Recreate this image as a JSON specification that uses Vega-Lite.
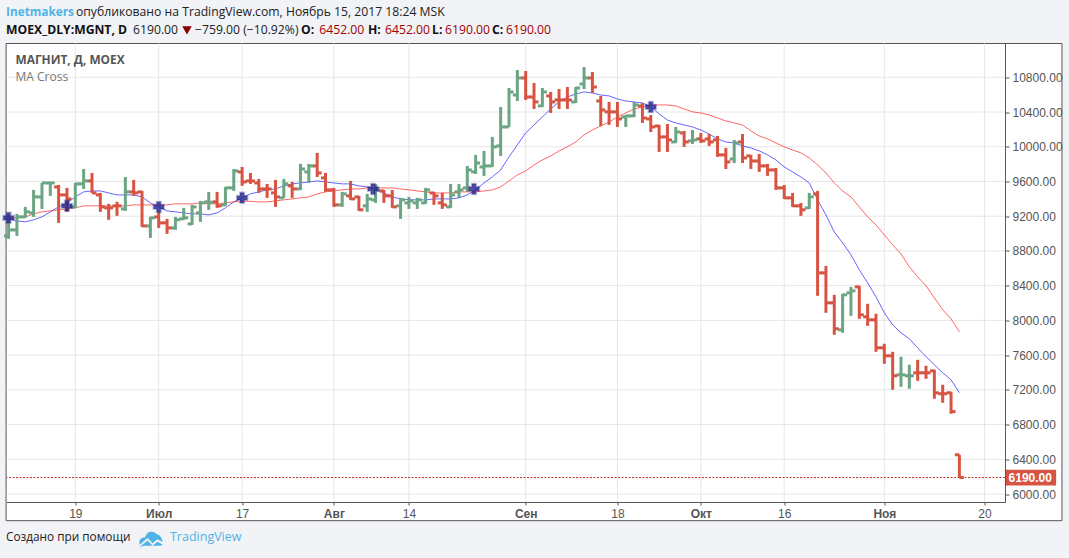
{
  "$schema": "https://vega.github.io/schema/vega-lite/v6.json",
  "width": 998.5,
  "height": 458.5,
  "autosize": "none",
  "padding": {"left": 6.5, "top": 43.5, "right": 64, "bottom": 56},
  "background": "#f1f3f6",
  "view": {"stroke": null},
  "config": {"axis": {"labelOverlap": false, "labelFlush": false, "labelBound": false}},
  "data": {"name": "one"},
  "datasets": {
    "one": [{"n": 1}],
    "ygrid": [{"p": 6000},{"p": 6400},{"p": 6800},{"p": 7200},{"p": 7600},{"p": 8000},{"p": 8400},{"p": 8800},{"p": 9200},{"p": 9600},{"p": 10000},{"p": 10400},{"p": 10800}],
    "xgrid": [{"i": 8},{"i": 18},{"i": 28},{"i": 39},{"i": 48},{"i": 62},{"i": 73},{"i": 83},{"i": 93},{"i": 105},{"i": 117}],
    "crosses": [{"i": 0,"p": 9181},{"i": 7,"p": 9319},{"i": 18,"p": 9307},{"i": 28,"p": 9411},{"i": 43.7,"p": 9514},{"i": 55.8,"p": 9514},{"i": 77,"p": 10458}],
    "bars": [
      {"i":0,"dir":"up","o":8973,"h":9215,"l":8939,"c":9042,"ma1":9169,"ma2":9181},
      {"i":1,"dir":"up","o":9042,"h":9227,"l":8973,"c":9192,"ma1":9146,"ma2":9181},
      {"i":2,"dir":"up","o":9192,"h":9307,"l":9181,"c":9250,"ma1":9134,"ma2":9192},
      {"i":3,"dir":"up","o":9238,"h":9503,"l":9192,"c":9422,"ma1":9158,"ma2":9227},
      {"i":4,"dir":"up","o":9422,"h":9583,"l":9284,"c":9583,"ma1":9192,"ma2":9250},
      {"i":5,"dir":"up","o":9583,"h":9595,"l":9434,"c":9583,"ma1":9250,"ma2":9261},
      {"i":6,"dir":"down","o":9537,"h":9560,"l":9123,"c":9445,"ma1":9307,"ma2":9273},
      {"i":7,"dir":"down","o":9445,"h":9526,"l":9250,"c":9399,"ma1":9353,"ma2":9284},
      {"i":8,"dir":"up","o":9307,"h":9583,"l":9296,"c":9572,"ma1":9422,"ma2":9296},
      {"i":9,"dir":"up","o":9572,"h":9744,"l":9514,"c":9606,"ma1":9480,"ma2":9319},
      {"i":10,"dir":"down","o":9606,"h":9698,"l":9468,"c":9468,"ma1":9491,"ma2":9319},
      {"i":11,"dir":"down","o":9445,"h":9468,"l":9250,"c":9307,"ma1":9491,"ma2":9319},
      {"i":12,"dir":"down","o":9296,"h":9342,"l":9158,"c":9296,"ma1":9468,"ma2":9319},
      {"i":13,"dir":"down","o":9319,"h":9365,"l":9204,"c":9319,"ma1":9445,"ma2":9319},
      {"i":14,"dir":"up","o":9284,"h":9652,"l":9261,"c":9480,"ma1":9445,"ma2":9319},
      {"i":15,"dir":"down","o":9480,"h":9618,"l":9434,"c":9468,"ma1":9445,"ma2":9330},
      {"i":16,"dir":"down","o":9480,"h":9491,"l":9077,"c":9088,"ma1":9422,"ma2":9330},
      {"i":17,"dir":"up","o":9088,"h":9192,"l":8950,"c":9181,"ma1":9353,"ma2":9330},
      {"i":18,"dir":"down","o":9192,"h":9250,"l":9065,"c":9123,"ma1":9307,"ma2":9330},
      {"i":19,"dir":"down","o":9123,"h":9169,"l":8996,"c":9065,"ma1":9261,"ma2":9330},
      {"i":20,"dir":"up","o":9065,"h":9192,"l":9042,"c":9158,"ma1":9250,"ma2":9342},
      {"i":21,"dir":"up","o":9169,"h":9296,"l":9158,"c":9181,"ma1":9238,"ma2":9342},
      {"i":22,"dir":"up","o":9111,"h":9330,"l":9100,"c":9307,"ma1":9227,"ma2":9342},
      {"i":23,"dir":"up","o":9238,"h":9376,"l":9134,"c":9353,"ma1":9227,"ma2":9353},
      {"i":24,"dir":"up","o":9365,"h":9480,"l":9273,"c":9360,"ma1":9215,"ma2":9342},
      {"i":25,"dir":"down","o":9365,"h":9480,"l":9296,"c":9319,"ma1":9238,"ma2":9342},
      {"i":26,"dir":"up","o":9330,"h":9537,"l":9319,"c":9526,"ma1":9296,"ma2":9353},
      {"i":27,"dir":"up","o":9526,"h":9744,"l":9491,"c":9721,"ma1":9365,"ma2":9365},
      {"i":28,"dir":"down","o":9710,"h":9767,"l":9549,"c":9595,"ma1":9411,"ma2":9376},
      {"i":29,"dir":"down","o":9606,"h":9698,"l":9572,"c":9606,"ma1":9457,"ma2":9370},
      {"i":30,"dir":"down","o":9583,"h":9629,"l":9468,"c":9514,"ma1":9480,"ma2":9365},
      {"i":31,"dir":"down","o":9514,"h":9572,"l":9411,"c":9514,"ma1":9503,"ma2":9365},
      {"i":32,"dir":"down","o":9468,"h":9618,"l":9307,"c":9422,"ma1":9514,"ma2":9376},
      {"i":33,"dir":"up","o":9411,"h":9629,"l":9411,"c":9572,"ma1":9549,"ma2":9388},
      {"i":34,"dir":"down","o":9549,"h":9595,"l":9411,"c":9514,"ma1":9572,"ma2":9399},
      {"i":35,"dir":"up","o":9514,"h":9802,"l":9503,"c":9744,"ma1":9583,"ma2":9411},
      {"i":36,"dir":"up","o":9710,"h":9802,"l":9583,"c":9779,"ma1":9595,"ma2":9422},
      {"i":37,"dir":"down","o":9779,"h":9929,"l":9652,"c":9698,"ma1":9606,"ma2":9457},
      {"i":38,"dir":"down","o":9641,"h":9698,"l":9480,"c":9503,"ma1":9595,"ma2":9480},
      {"i":39,"dir":"down","o":9503,"h":9526,"l":9307,"c":9330,"ma1":9583,"ma2":9491},
      {"i":40,"dir":"up","o":9330,"h":9480,"l":9307,"c":9457,"ma1":9572,"ma2":9503},
      {"i":41,"dir":"down","o":9434,"h":9606,"l":9388,"c":9399,"ma1":9572,"ma2":9514},
      {"i":42,"dir":"down","o":9422,"h":9434,"l":9261,"c":9273,"ma1":9549,"ma2":9514},
      {"i":43,"dir":"up","o":9319,"h":9457,"l":9250,"c":9399,"ma1":9537,"ma2":9526},
      {"i":44,"dir":"up","o":9388,"h":9572,"l":9353,"c":9503,"ma1":9503,"ma2":9526},
      {"i":45,"dir":"down","o":9491,"h":9503,"l":9353,"c":9434,"ma1":9468,"ma2":9526},
      {"i":46,"dir":"down","o":9434,"h":9503,"l":9296,"c":9307,"ma1":9422,"ma2":9526},
      {"i":47,"dir":"up","o":9319,"h":9411,"l":9169,"c":9388,"ma1":9399,"ma2":9514},
      {"i":48,"dir":"up","o":9353,"h":9422,"l":9284,"c":9376,"ma1":9388,"ma2":9503},
      {"i":49,"dir":"up","o":9353,"h":9411,"l":9284,"c":9388,"ma1":9388,"ma2":9491},
      {"i":50,"dir":"up","o":9353,"h":9526,"l":9342,"c":9503,"ma1":9388,"ma2":9480},
      {"i":51,"dir":"down","o":9468,"h":9480,"l":9330,"c":9434,"ma1":9399,"ma2":9468},
      {"i":52,"dir":"down","o":9353,"h":9468,"l":9284,"c":9330,"ma1":9399,"ma2":9468},
      {"i":53,"dir":"up","o":9307,"h":9572,"l":9296,"c":9445,"ma1":9399,"ma2":9468},
      {"i":54,"dir":"up","o":9480,"h":9572,"l":9411,"c":9503,"ma1":9411,"ma2":9480},
      {"i":55,"dir":"up","o":9526,"h":9779,"l":9480,"c":9733,"ma1":9445,"ma2":9480},
      {"i":56,"dir":"up","o":9710,"h":9906,"l":9687,"c":9813,"ma1":9503,"ma2":9480},
      {"i":57,"dir":"up","o":9767,"h":9952,"l":9664,"c":9779,"ma1":9583,"ma2":9491},
      {"i":58,"dir":"up","o":9779,"h":10113,"l":9767,"c":9998,"ma1":9652,"ma2":9503},
      {"i":59,"dir":"up","o":10009,"h":10458,"l":9894,"c":10228,"ma1":9733,"ma2":9537},
      {"i":60,"dir":"up","o":10228,"h":10677,"l":10228,"c":10631,"ma1":9883,"ma2":9606},
      {"i":61,"dir":"up","o":10596,"h":10884,"l":10527,"c":10792,"ma1":10021,"ma2":9675},
      {"i":62,"dir":"down","o":10792,"h":10872,"l":10539,"c":10573,"ma1":10159,"ma2":9721},
      {"i":63,"dir":"down","o":10573,"h":10734,"l":10435,"c":10516,"ma1":10251,"ma2":9790},
      {"i":64,"dir":"up","o":10470,"h":10677,"l":10458,"c":10631,"ma1":10343,"ma2":9848},
      {"i":65,"dir":"down","o":10585,"h":10631,"l":10389,"c":10516,"ma1":10435,"ma2":9894},
      {"i":66,"dir":"down","o":10539,"h":10665,"l":10435,"c":10539,"ma1":10516,"ma2":9952},
      {"i":67,"dir":"down","o":10539,"h":10688,"l":10435,"c":10539,"ma1":10573,"ma2":9998},
      {"i":68,"dir":"up","o":10516,"h":10688,"l":10504,"c":10677,"ma1":10608,"ma2":10055},
      {"i":69,"dir":"up","o":10723,"h":10918,"l":10665,"c":10792,"ma1":10631,"ma2":10136},
      {"i":70,"dir":"down","o":10792,"h":10861,"l":10619,"c":10688,"ma1":10619,"ma2":10193},
      {"i":71,"dir":"down","o":10527,"h":10585,"l":10239,"c":10424,"ma1":10596,"ma2":10239},
      {"i":72,"dir":"down","o":10401,"h":10516,"l":10251,"c":10401,"ma1":10585,"ma2":10285},
      {"i":73,"dir":"down","o":10401,"h":10516,"l":10228,"c":10320,"ma1":10550,"ma2":10343},
      {"i":74,"dir":"up","o":10343,"h":10366,"l":10228,"c":10355,"ma1":10527,"ma2":10389},
      {"i":75,"dir":"up","o":10355,"h":10516,"l":10343,"c":10481,"ma1":10516,"ma2":10435},
      {"i":76,"dir":"down","o":10470,"h":10504,"l":10274,"c":10331,"ma1":10504,"ma2":10458},
      {"i":77,"dir":"down","o":10320,"h":10366,"l":10170,"c":10228,"ma1":10458,"ma2":10481},
      {"i":78,"dir":"down","o":10239,"h":10251,"l":9940,"c":10113,"ma1":10378,"ma2":10481},
      {"i":79,"dir":"down","o":10113,"h":10262,"l":9940,"c":10078,"ma1":10308,"ma2":10481},
      {"i":80,"dir":"up","o":10055,"h":10228,"l":10044,"c":10170,"ma1":10274,"ma2":10470},
      {"i":81,"dir":"down","o":10159,"h":10182,"l":9998,"c":10055,"ma1":10251,"ma2":10435},
      {"i":82,"dir":"up","o":10067,"h":10193,"l":10032,"c":10078,"ma1":10228,"ma2":10401},
      {"i":83,"dir":"down","o":10090,"h":10159,"l":10044,"c":10067,"ma1":10193,"ma2":10389},
      {"i":84,"dir":"down","o":10090,"h":10147,"l":10009,"c":10055,"ma1":10147,"ma2":10366},
      {"i":85,"dir":"down","o":10078,"h":10124,"l":9883,"c":9906,"ma1":10090,"ma2":10331},
      {"i":86,"dir":"down","o":9906,"h":9986,"l":9744,"c":9825,"ma1":10055,"ma2":10297},
      {"i":87,"dir":"up","o":9859,"h":10078,"l":9813,"c":10044,"ma1":10044,"ma2":10274},
      {"i":88,"dir":"down","o":10055,"h":10147,"l":9813,"c":9871,"ma1":10009,"ma2":10251},
      {"i":89,"dir":"down","o":9894,"h":9906,"l":9744,"c":9836,"ma1":9986,"ma2":10182},
      {"i":90,"dir":"down","o":9836,"h":9917,"l":9710,"c":9779,"ma1":9952,"ma2":10124},
      {"i":91,"dir":"down","o":9779,"h":9802,"l":9664,"c":9733,"ma1":9906,"ma2":10090},
      {"i":92,"dir":"down","o":9733,"h":9756,"l":9503,"c":9526,"ma1":9848,"ma2":10044},
      {"i":93,"dir":"down","o":9526,"h":9560,"l":9399,"c":9411,"ma1":9767,"ma2":9998},
      {"i":94,"dir":"down","o":9411,"h":9468,"l":9307,"c":9319,"ma1":9710,"ma2":9963},
      {"i":95,"dir":"down","o":9319,"h":9353,"l":9204,"c":9273,"ma1":9652,"ma2":9929},
      {"i":96,"dir":"up","o":9296,"h":9468,"l":9284,"c":9422,"ma1":9583,"ma2":9871},
      {"i":97,"dir":"down","o":9457,"h":9491,"l":8283,"c":8547,"ma1":9388,"ma2":9790},
      {"i":98,"dir":"down","o":8547,"h":8628,"l":8087,"c":8202,"ma1":9215,"ma2":9698},
      {"i":99,"dir":"down","o":8202,"h":8294,"l":7834,"c":7903,"ma1":9019,"ma2":9583},
      {"i":100,"dir":"up","o":7891,"h":8306,"l":7857,"c":8294,"ma1":8893,"ma2":9491},
      {"i":101,"dir":"up","o":8317,"h":8386,"l":8052,"c":8340,"ma1":8755,"ma2":9422},
      {"i":102,"dir":"down","o":8386,"h":8398,"l":8018,"c":8064,"ma1":8582,"ma2":9307},
      {"i":103,"dir":"down","o":8041,"h":8191,"l":7937,"c":8006,"ma1":8432,"ma2":9192},
      {"i":104,"dir":"down","o":8006,"h":8076,"l":7638,"c":7684,"ma1":8271,"ma2":9100},
      {"i":105,"dir":"down","o":7684,"h":7730,"l":7500,"c":7592,"ma1":8087,"ma2":8985},
      {"i":106,"dir":"down","o":7592,"h":7638,"l":7201,"c":7362,"ma1":7949,"ma2":8870},
      {"i":107,"dir":"up","o":7373,"h":7581,"l":7235,"c":7373,"ma1":7857,"ma2":8766},
      {"i":108,"dir":"up","o":7362,"h":7489,"l":7212,"c":7362,"ma1":7788,"ma2":8617},
      {"i":109,"dir":"down","o":7396,"h":7546,"l":7304,"c":7396,"ma1":7684,"ma2":8501},
      {"i":110,"dir":"down","o":7396,"h":7477,"l":7327,"c":7396,"ma1":7581,"ma2":8398},
      {"i":111,"dir":"down","o":7419,"h":7431,"l":7097,"c":7166,"ma1":7489,"ma2":8260},
      {"i":112,"dir":"down","o":7155,"h":7258,"l":7051,"c":7155,"ma1":7396,"ma2":8122},
      {"i":113,"dir":"down","o":7166,"h":7178,"l":6925,"c":6949,"ma1":7316,"ma2":8018},
      {"i":114,"dir":"down","o":6452,"h":6452,"l":6190,"c":6190,"ma1":7166,"ma2":7868}
    ]
  },
  "layer": [
    {
      "mark": {"type": "rect", "fill": "#ffffff", "stroke": "#555555", "strokeWidth": 1},
      "encoding": {
        "x": {"datum": -0.3, "type": "quantitative", "scale": {"domain": [-0.25, 119.47], "nice": false, "zero": false}},
        "x2": {"datum": 126.3},
        "y": {"datum": 11189, "type": "quantitative", "scale": {"domain": [5908, 11189], "nice": false, "zero": false}},
        "y2": {"datum": 5693}
      }
    },
    {
      "data": {"name": "ygrid"},
      "mark": {"type": "rule", "color": "#e6e6e6", "strokeWidth": 1},
      "encoding": {"y": {"field": "p", "type": "quantitative"}}
    },
    {
      "data": {"name": "xgrid"},
      "mark": {"type": "rule", "color": "#e6e6e6", "strokeWidth": 1},
      "encoding": {"x": {"field": "i", "type": "quantitative"}}
    },
    {
      "mark": {"type": "rule", "color": "#c0392b", "strokeWidth": 1, "strokeDash": [2, 1.5]},
      "encoding": {"y": {"datum": 6190, "type": "quantitative"}}
    },
    {
      "data": {"name": "bars"},
      "mark": {"type": "line", "color": "#0000ff", "strokeWidth": 1, "opacity": 0.6},
      "encoding": {
        "x": {"field": "i", "type": "quantitative"},
        "y": {"field": "ma1", "type": "quantitative"}
      }
    },
    {
      "data": {"name": "bars"},
      "mark": {"type": "line", "color": "#ff0000", "strokeWidth": 1, "opacity": 0.6},
      "encoding": {
        "x": {"field": "i", "type": "quantitative"},
        "y": {"field": "ma2", "type": "quantitative"}
      }
    },
    {
      "data": {"name": "bars"},
      "mark": {"type": "rule", "strokeWidth": 3},
      "encoding": {
        "x": {
          "field": "i",
          "type": "quantitative",
          "title": null,
          "axis": {
            "orient": "bottom",
            "title": null,
            "grid": false,
            "zindex": 1,
            "values": [8, 18, 28, 39, 48, 62, 73, 83, 93, 105, 117],
            "tickCount": 11,
            "labelExpr": "{'8':'19','18':'Июл','28':'17','39':'Авг','48':'14','62':'Сен','73':'18','83':'Окт','93':'16','105':'Ноя','117':'20'}[datum.value]",
            "labelFont": "Liberation Sans",
            "labelFontSize": 12,
            "labelColor": "#555555",
            "labelFontWeight": {"condition": {"test": "datum.value == 18 || datum.value == 39 || datum.value == 62 || datum.value == 83 || datum.value == 105", "value": "bold"}, "value": "normal"},
            "labelPadding": 3,
            "labelOverlap": false,
            "tickSize": 3,
            "tickColor": "#555555",
            "domainColor": "#555555"
          }
        },
        "y": {
          "field": "l",
          "type": "quantitative",
          "title": null,
          "axis": {
            "orient": "right",
            "title": null,
            "grid": false,
            "zindex": 1,
            "values": [6000, 6400, 6800, 7200, 7600, 8000, 8400, 8800, 9200, 9600, 10000, 10400, 10800],
            "tickCount": 13,
            "format": ".2f",
            "labelFont": "Liberation Sans",
            "labelFontSize": 12,
            "labelColor": "#555555",
            "labelPadding": 3,
            "labelOverlap": false,
            "tickSize": 4,
            "tickColor": "#555555",
            "domainColor": "#555555"
          }
        },
        "y2": {"field": "h"},
        "color": {"field": "dir", "type": "nominal", "legend": null, "scale": {"domain": ["up", "down"], "range": ["#6ba583", "#d75442"]}}
      }
    },
    {
      "data": {"name": "bars"},
      "mark": {"type": "tick", "orient": "horizontal", "size": 4.5, "thickness": 3, "xOffset": -2.25, "opacity": 1},
      "encoding": {
        "x": {"field": "i", "type": "quantitative"},
        "y": {"field": "o", "type": "quantitative"},
        "color": {"field": "dir", "type": "nominal", "legend": null}
      }
    },
    {
      "data": {"name": "bars"},
      "mark": {"type": "tick", "orient": "horizontal", "size": 4.5, "thickness": 3, "xOffset": 2.25, "opacity": 1},
      "encoding": {
        "x": {"field": "i", "type": "quantitative"},
        "y": {"field": "c", "type": "quantitative"},
        "color": {"field": "dir", "type": "nominal", "legend": null}
      }
    },
    {
      "data": {"name": "crosses"},
      "mark": {"type": "point", "shape": "cross", "filled": true, "size": 110, "fill": "#23238a", "fillOpacity": 0.8, "stroke": "#23238a", "strokeWidth": 2, "strokeOpacity": 0.3, "opacity": 1},
      "encoding": {
        "x": {"field": "i", "type": "quantitative"},
        "y": {"field": "p", "type": "quantitative"}
      }
    },
    {
      "mark": {"type": "rect", "fill": "#d75442"},
      "encoding": {
        "x": {"datum": 119.47, "type": "quantitative"},
        "x2": {"datum": 125.6},
        "y": {"datum": 6279, "type": "quantitative"},
        "y2": {"datum": 6099}
      }
    },
    {
      "mark": {"type": "text", "text": "6190.00", "font": "Liberation Sans", "fontSize": 12, "fontWeight": "bold", "color": "#ffffff", "align": "center"},
      "encoding": {
        "x": {"datum": 122.5, "type": "quantitative"},
        "y": {"datum": 6190, "type": "quantitative"}
      }
    },
    {
      "mark": {"type": "text", "text": "МАГНИТ, Д, MOEX", "font": "Open Sans", "fontSize": 11.9, "fontWeight": "bold", "color": "#555555", "align": "left"},
      "encoding": {"x": {"datum": 0.83, "type": "quantitative"}, "y": {"datum": 10999, "type": "quantitative"}}
    },
    {
      "mark": {"type": "text", "text": "MA Cross", "font": "Open Sans", "fontSize": 12, "color": "#777777", "align": "left"},
      "encoding": {"x": {"datum": 0.83, "type": "quantitative"}, "y": {"datum": 10803, "type": "quantitative"}}
    },
    {
      "mark": {"type": "text", "text": "Inetmakers", "font": "Open Sans", "fontSize": 11.8, "fontWeight": "bold", "color": "#4fb3e8", "align": "left"},
      "encoding": {"x": {"datum": -0.31, "type": "quantitative"}, "y": {"datum": 11551, "type": "quantitative"}}
    },
    {
      "mark": {"type": "text", "text": "опубликовано на TradingView.com, Ноябрь 15, 2017 18:24 MSK", "font": "Open Sans", "fontSize": 12.2, "color": "#222222", "align": "left"},
      "encoding": {"x": {"datum": 8.08, "type": "quantitative"}, "y": {"datum": 11551, "type": "quantitative"}}
    },
    {
      "mark": {"type": "text", "text": "MOEX_DLY:MGNT, D", "font": "Open Sans", "fontSize": 12.2, "fontWeight": "bold", "color": "#111111", "align": "left"},
      "encoding": {"x": {"datum": -0.31, "type": "quantitative"}, "y": {"datum": 11350, "type": "quantitative"}}
    },
    {
      "mark": {"type": "text", "text": "6190.00", "font": "Open Sans", "fontSize": 12.2, "color": "#222222", "align": "left"},
      "encoding": {"x": {"datum": 14.92, "type": "quantitative"}, "y": {"datum": 11350, "type": "quantitative"}}
    },
    {
      "mark": {"type": "point", "shape": "triangle-down", "filled": true, "size": 90, "color": "#8b0000", "opacity": 1},
      "encoding": {"x": {"datum": 21.39, "type": "quantitative"}, "y": {"datum": 11339, "type": "quantitative"}}
    },
    {
      "mark": {"type": "text", "text": "−759.00 (−10.92%)", "font": "Open Sans", "fontSize": 12.2, "color": "#222222", "align": "left"},
      "encoding": {"x": {"datum": 22.35, "type": "quantitative"}, "y": {"datum": 11350, "type": "quantitative"}}
    },
    {
      "mark": {"type": "text", "text": "O:", "font": "Open Sans", "fontSize": 12.2, "fontWeight": "bold", "color": "#111111", "align": "left"},
      "encoding": {"x": {"datum": 35.06, "type": "quantitative"}, "y": {"datum": 11350, "type": "quantitative"}}
    },
    {
      "mark": {"type": "text", "text": "6452.00", "font": "Open Sans", "fontSize": 12.2, "color": "#a00000", "align": "left"},
      "encoding": {"x": {"datum": 37.25, "type": "quantitative"}, "y": {"datum": 11350, "type": "quantitative"}}
    },
    {
      "mark": {"type": "text", "text": "H:", "font": "Open Sans", "fontSize": 12.2, "fontWeight": "bold", "color": "#111111", "align": "left"},
      "encoding": {"x": {"datum": 43.09, "type": "quantitative"}, "y": {"datum": 11350, "type": "quantitative"}}
    },
    {
      "mark": {"type": "text", "text": "6452.00", "font": "Open Sans", "fontSize": 12.2, "color": "#a00000", "align": "left"},
      "encoding": {"x": {"datum": 45.13, "type": "quantitative"}, "y": {"datum": 11350, "type": "quantitative"}}
    },
    {
      "mark": {"type": "text", "text": "L:", "font": "Open Sans", "fontSize": 12.2, "fontWeight": "bold", "color": "#111111", "align": "left"},
      "encoding": {"x": {"datum": 50.77, "type": "quantitative"}, "y": {"datum": 11350, "type": "quantitative"}}
    },
    {
      "mark": {"type": "text", "text": "6190.00", "font": "Open Sans", "fontSize": 12.2, "color": "#a00000", "align": "left"},
      "encoding": {"x": {"datum": 52.33, "type": "quantitative"}, "y": {"datum": 11350, "type": "quantitative"}}
    },
    {
      "mark": {"type": "text", "text": "C:", "font": "Open Sans", "fontSize": 12.2, "fontWeight": "bold", "color": "#111111", "align": "left"},
      "encoding": {"x": {"datum": 57.96, "type": "quantitative"}, "y": {"datum": 11350, "type": "quantitative"}}
    },
    {
      "mark": {"type": "text", "text": "6190.00", "font": "Open Sans", "fontSize": 12.2, "color": "#a00000", "align": "left"},
      "encoding": {"x": {"datum": 59.64, "type": "quantitative"}, "y": {"datum": 11350, "type": "quantitative"}}
    },
    {
      "mark": {"type": "text", "text": "Создано при помощи", "font": "Open Sans", "fontSize": 11.8, "color": "#222222", "align": "left"},
      "encoding": {"x": {"datum": -0.31, "type": "quantitative"}, "y": {"datum": 5509, "type": "quantitative"}}
    },
    {
      "mark": {
        "type": "point",
        "shape": "M-1,0.25 C-0.95,-0.05 -0.7,-0.1 -0.55,-0.1 L-0.3,-0.5 C-0.15,-0.65 0.3,-0.65 0.45,-0.4 C0.7,-0.35 1,-0.1 1,0.3 L0.55,0.05 L0.15,0.4 L-0.3,-0.05 L-1,0.55 Z M-1,0.75 L-0.3,0.17 L0.15,0.62 L0.55,0.27 L1,0.5 C0.95,0.6 0.8,0.62 0.7,0.62 L-0.6,0.62 Z",
        "filled": true,
        "size": 529,
        "color": "#4fb3e8",
        "opacity": 1
      },
      "encoding": {"x": {"datum": 17.07, "type": "quantitative"}, "y": {"datum": 5486, "type": "quantitative"}}
    },
    {
      "mark": {"type": "text", "text": "TradingView", "font": "Open Sans", "fontSize": 12.5, "color": "#4fb3e8", "align": "left"},
      "encoding": {"x": {"datum": 19.35, "type": "quantitative"}, "y": {"datum": 5509, "type": "quantitative"}}
    }
  ]
}
